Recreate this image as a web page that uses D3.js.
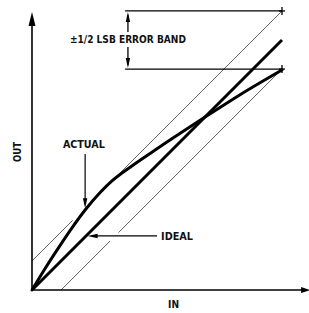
<!DOCTYPE html>
<html>
<head>
<meta charset="utf-8">
<script src="https://cdn.jsdelivr.net/npm/d3@7"></script>
<style>
body { margin: 0; background: #fff; }
svg { display: block; }
text { font-family: "Liberation Sans Narrow", "DejaVu Sans Condensed", "Arial Narrow", sans-serif; font-weight: bold; fill: #111; }
</style>
</head>
<body>
<svg id="chart" width="309" height="313"></svg>
<script>
var totalW = 309;
var totalH = 313;

// transfer curves, both axes counted in LSB steps
var actualIn  = [0, 0.42, 0.9, 1.28, 1.7, 2.18, 2.56, 3.14, 4.0, 5.38, 6.66, 8.0];
var actualOut = [0, 0.69, 1.43, 1.99, 2.56, 3.12, 3.49, 3.93, 4.52, 5.43, 6.25, 7.04];
var idealIn  = [0, 8];
var idealOut = [0, 8];

// error band around the ideal line, and where its thin lines are broken
var bandHalf = 0.93;
var upperBandParts = [[0, 1.3], [2.3, 8]];
var lowerBandParts = [[0.93, 2.5], [2.75, 8]];
var axisMax = 8.9;

var bandLabel = '±1/2 LSB ERROR BAND';
var curveLabels = ['ACTUAL', 'IDEAL'];
var axisLabels = ['IN', 'OUT'];

var x = d3.scaleLinear().domain([0, 8]).range([32, 282]);
var y = d3.scaleLinear().domain([0, 8]).range([290, 40]);

var svg = d3.select('#chart');

drawBand(svg);
drawCurves(svg);
drawAxes(svg);
drawBandNote(svg);
drawCurveNotes(svg);

function arrowHead(g, tipX, tipY, dirX, dirY, len, half) {
    var bx = tipX - dirX * len, by = tipY - dirY * len;
    var px = -dirY * half, py = dirX * half;
    g.append('path')
        .attr('d', 'M' + tipX + ',' + tipY + 'L' + (bx + px) + ',' + (by + py) + 'L' + (bx - px) + ',' + (by - py) + 'Z')
        .attr('fill', '#000')
        .attr('stroke', 'none');
}

function drawAxes(svg) {
    var gAxis = svg.append('g').attr('class', 'axes').attr('stroke', '#000').attr('stroke-width', 1.6);
    gAxis.append('line')
        .attr('x1', x(0)).attr('y1', y(0))
        .attr('x2', x(0)).attr('y2', y(axisMax) + 6);
    gAxis.append('line')
        .attr('x1', x(0)).attr('y1', y(0))
        .attr('x2', x(axisMax) - 5).attr('y2', y(0));
    arrowHead(gAxis, x(0), y(axisMax), 0, -1, 14, 3.5);
    arrowHead(gAxis, x(axisMax), y(0), 1, 0, 9, 3);

    svg.append('text')
        .attr('x', x(4.53)).attr('y', y(-0.59))
        .attr('text-anchor', 'middle')
        .attr('font-size', 10)
        .attr('textLength', 11).attr('lengthAdjust', 'spacingAndGlyphs')
        .text(axisLabels[0]);

    svg.append('text')
        .attr('transform', 'translate(' + x(-0.35) + ',' + y(4.42) + ') rotate(-90)')
        .attr('text-anchor', 'middle')
        .attr('font-size', 11)
        .attr('textLength', 20).attr('lengthAdjust', 'spacingAndGlyphs')
        .text(axisLabels[1]);
}

function drawBand(svg) {
    var gBand = svg.append('g').attr('class', 'band').attr('stroke', '#333').attr('stroke-width', 0.8);
    upperBandParts.forEach(function (p) {
        gBand.append('line')
            .attr('x1', x(p[0])).attr('y1', y(p[0] + bandHalf))
            .attr('x2', x(p[1])).attr('y2', y(p[1] + bandHalf));
    });
    lowerBandParts.forEach(function (p) {
        gBand.append('line')
            .attr('x1', x(p[0])).attr('y1', y(p[0] - bandHalf))
            .attr('x2', x(p[1])).attr('y2', y(p[1] - bandHalf));
    });
}

function drawCurves(svg) {
    var line = d3.line()
        .x(function (d) { return x(d[0]); })
        .y(function (d) { return y(d[1]); });

    svg.append('path')
        .datum(d3.zip(idealIn, idealOut))
        .attr('class', 'ideal')
        .attr('d', line)
        .attr('fill', 'none').attr('stroke', '#000').attr('stroke-width', 3);

    svg.append('path')
        .datum(d3.zip(actualIn, actualOut))
        .attr('class', 'actual')
        .attr('d', line.curve(d3.curveMonotoneX))
        .attr('fill', 'none').attr('stroke', '#000').attr('stroke-width', 3)
        .attr('stroke-linecap', 'round');
}

function drawBandNote(svg) {
    var g = svg.append('g').attr('class', 'bandNote').attr('stroke', '#000').attr('stroke-width', 1.3);
    var top = 8 + bandHalf, bot = 8 - bandHalf;
    var ax = x(3.07);

    g.append('line').attr('x1', x(2.98)).attr('y1', y(top)).attr('x2', x(8)).attr('y2', y(top));
    g.append('line').attr('x1', x(2.98)).attr('y1', y(bot)).attr('x2', x(8)).attr('y2', y(bot));

    // small crosses at the band ends
    [top, bot].forEach(function (v) {
        g.append('line').attr('x1', x(8)).attr('y1', y(v) - 4).attr('x2', x(8)).attr('y2', y(v) + 4);
        g.append('line').attr('x1', x(8) - 3).attr('y1', y(v)).attr('x2', x(8) + 3).attr('y2', y(v));
    });

    g.append('line').attr('x1', ax).attr('y1', y(top) + 4).attr('x2', ax).attr('y2', y(8.26));
    arrowHead(g, ax, y(top) + 1, 0, -1, 10, 2.2);
    g.append('line').attr('x1', ax).attr('y1', y(7.78)).attr('x2', ax).attr('y2', y(bot) - 4);
    arrowHead(g, ax, y(bot) - 1, 0, 1, 10, 2.2);

    svg.append('text')
        .attr('x', ax).attr('y', y(7.9))
        .attr('text-anchor', 'middle')
        .attr('font-size', 10.5)
        .attr('textLength', 116).attr('lengthAdjust', 'spacingAndGlyphs')
        .text(bandLabel);
}

function drawCurveNotes(svg) {
    var g = svg.append('g').attr('class', 'curveNote').attr('stroke', '#000').attr('stroke-width', 1.2);

    // ACTUAL pointer, straight down onto the curve
    var axA = x(1.7);
    g.append('line').attr('x1', axA).attr('y1', y(4.35)).attr('x2', axA).attr('y2', y(2.62) - 4);
    arrowHead(g, axA, y(2.62), 0, 1, 10, 2.2);
    svg.append('text')
        .attr('x', x(1.66)).attr('y', y(4.56))
        .attr('text-anchor', 'middle')
        .attr('font-size', 10.5)
        .attr('textLength', 42).attr('lengthAdjust', 'spacingAndGlyphs')
        .text(curveLabels[0]);

    // IDEAL pointer, straight left onto the ideal line
    var ayI = y(1.73);
    g.append('line').attr('x1', x(2.3)).attr('y1', ayI).attr('x2', x(4.0)).attr('y2', ayI)
        .attr('stroke', '#fff').attr('stroke-width', 7);
    g.append('line').attr('x1', x(1.78) + 4).attr('y1', ayI).attr('x2', x(4.0)).attr('y2', ayI);
    arrowHead(g, x(1.78), ayI, -1, 0, 10, 2.2);
    svg.append('text')
        .attr('x', x(4.13)).attr('y', y(1.6))
        .attr('font-size', 10.5)
        .attr('textLength', 32).attr('lengthAdjust', 'spacingAndGlyphs')
        .text(curveLabels[1]);
}
</script>
</body>
</html>
